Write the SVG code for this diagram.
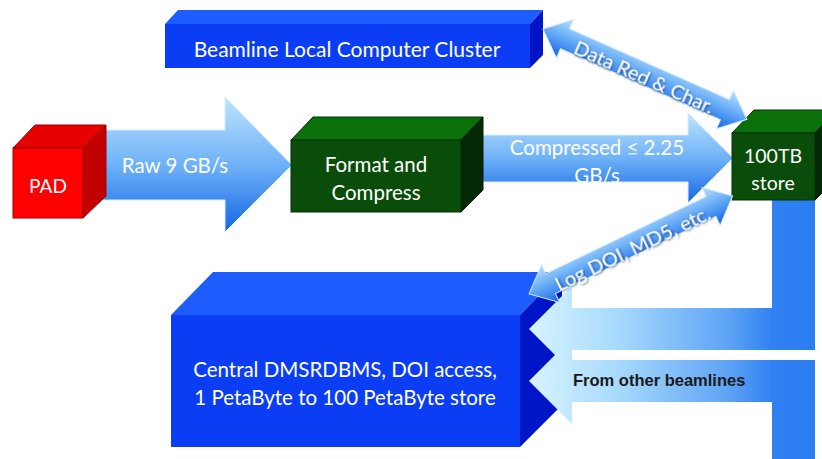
<svg xmlns="http://www.w3.org/2000/svg" width="822" height="459" viewBox="0 0 822 459">
  <defs>
    <linearGradient id="flowV" x1="0" y1="0" x2="0" y2="1">
      <stop offset="0" stop-color="#bfe4ff"/>
      <stop offset="0.5" stop-color="#6fb2f7"/>
      <stop offset="1" stop-color="#1466e6"/>
    </linearGradient>
    <linearGradient id="returnH" x1="0" y1="0" x2="1" y2="0">
      <stop offset="0" stop-color="#d8f3ff"/>
      <stop offset="0.3" stop-color="#a9dbfd"/>
      <stop offset="0.7" stop-color="#5da3f5"/>
      <stop offset="0.85" stop-color="#3082f2"/>
      <stop offset="1" stop-color="#2a7cf2"/>
    </linearGradient>
    <linearGradient id="dblV" gradientUnits="userSpaceOnUse" x1="0" y1="-21" x2="0" y2="21">
      <stop offset="0" stop-color="#b8e2ff"/>
      <stop offset="0.5" stop-color="#62a8f6"/>
      <stop offset="1" stop-color="#1463e4"/>
    </linearGradient>
    <filter id="shadow" x="-10%" y="-30%" width="120%" height="160%">
      <feDropShadow dx="1" dy="1.2" stdDeviation="0.9" flood-color="#001a4d" flood-opacity="0.7"/>
    </filter>
  </defs>
  <style>
    .lbl { font-family: Lato, "Liberation Sans", sans-serif; fill: #ffffff; text-anchor: middle; }
    .flow { fill: url(#flowV); stroke: #d5ecff; stroke-width: 1; }
    .ret { fill: url(#returnH); }
    .dbl { fill: url(#dblV); stroke: #cfe9ff; stroke-width: 1; }
    .bFront { fill: #0b3df5; }
    .bTop { fill: #1d5cff; }
    .bSide { fill: #0016c6; }
    .gFront { fill: #0a4c0a; stroke: #063006; stroke-width: 1; }
    .gTop { fill: #0a700a; stroke: #063006; stroke-width: 1; }
    .gSide { fill: #032803; stroke: #021a02; stroke-width: 1; }
  </style>

  <!-- beamline compute cluster -->
  <g id="cluster">
    <polygon class="bTop" points="165,24 178,10 543,10 530,24"/>
    <polygon class="bSide" points="530,24 543,10 543,55 530,68"/>
    <rect class="bFront" x="165" y="24" width="365" height="44"/>
    <text class="lbl" x="347" y="57" font-size="21">Beamline Local Computer Cluster</text>
  </g>

  <!-- central storage -->
  <g id="central">
    <polygon class="bTop" points="171,315 213,272 562,272 520,315"/>
    <polygon class="bSide" points="520,315 562,272 562,405 520,447"/>
    <rect class="bFront" x="171" y="315" width="349" height="132"/>
    <text class="lbl" x="345" y="377" font-size="20.5">Central DMSRDBMS, DOI access,</text>
    <text class="lbl" x="345" y="405" font-size="20.5">1 PetaByte to 100 PetaByte store</text>
  </g>

  <g id="connectors">
    <!-- raw stream -->
    <polygon id="raw" class="flow" points="100,130 225,130 225,97 292,165 225,232 225,200 100,200"/>
    <text class="lbl" x="175" y="173" font-size="20.5">Raw 9 GB/s</text>

    <!-- compressed stream -->
    <polygon id="compressed" class="flow" points="470,135 688,135 688,113 733,158 688,203 688,182 470,182"/>
    <text class="lbl" x="597" y="155" font-size="20.5">Compressed ≤ 2.25</text>
    <text class="lbl" x="597" y="183" font-size="20.5">GB/s</text>

    <!-- store to central -->
    <polygon id="storeToCentral" class="ret" points="772,200 815,200 815,350 572,350 572,372 529,329 572,286 572,308 772,308"/>

    <!-- other beamlines to central -->
    <polygon id="otherBeamlines" class="ret" points="572,360 815,360 815,459 772,459 772,402 572,402 572,424 529,381 572,338"/>
    <text x="573" y="386" font-family="Liberation Sans, Arial, sans-serif" font-weight="bold" font-size="16.5" fill="#1a1a1a">From other beamlines</text>
  </g>

  <!-- PAD detector -->
  <g id="pad">
    <polygon points="13,148 35,125 106,125 83,148" fill="#e60000" stroke="#a00000" stroke-width="1"/>
    <polygon points="83,148 106,125 106,196 83,218" fill="#c20000" stroke="#a00000" stroke-width="1"/>
    <rect x="13" y="148" width="70" height="70" fill="#ff0000" stroke="#a00000" stroke-width="1"/>
    <text class="lbl" x="48" y="193" font-size="19">PAD</text>
  </g>

  <!-- format and compress -->
  <g id="format">
    <polygon class="gTop" points="291,140 313,117 483,117 461,140"/>
    <polygon class="gSide" points="461,140 483,117 483,190 461,212"/>
    <rect class="gFront" x="291" y="140" width="170" height="72"/>
    <text class="lbl" x="376" y="172" font-size="20.5">Format and</text>
    <text class="lbl" x="376" y="200" font-size="20.5">Compress</text>
  </g>

  <!-- local 100TB store -->
  <g id="store">
    <polygon class="gTop" points="732,133 754,110 837,110 815,133"/>
    <polygon class="gSide" points="815,133 837,110 837,178 815,200"/>
    <rect class="gFront" x="732" y="133" width="83" height="67"/>
    <text class="lbl" x="773" y="163" font-size="19.5">100TB</text>
    <text class="lbl" x="773" y="190" font-size="19.5">store</text>
  </g>

  <g id="links">
    <!-- cluster <-> store -->
    <g transform="translate(543,29) rotate(23.9)">
      <polygon class="dbl" points="0,0 24,-21 24,-11 199,-11 199,-21 223,0 199,21 199,11 24,11 24,21"/>
      <text class="lbl" x="112" y="10" font-size="20" filter="url(#shadow)">Data Red &amp; Char.</text>
    </g>
    <!-- store <-> central -->
    <g transform="translate(529,294) rotate(-25.7)">
      <polygon class="dbl" points="0,0 24,-21 24,-11 202,-11 202,-21 226,0 202,21 202,11 24,11 24,21"/>
      <text class="lbl" x="113" y="11" font-size="20" filter="url(#shadow)">Log DOI, MD5, etc.</text>
    </g>
  </g>
</svg>
